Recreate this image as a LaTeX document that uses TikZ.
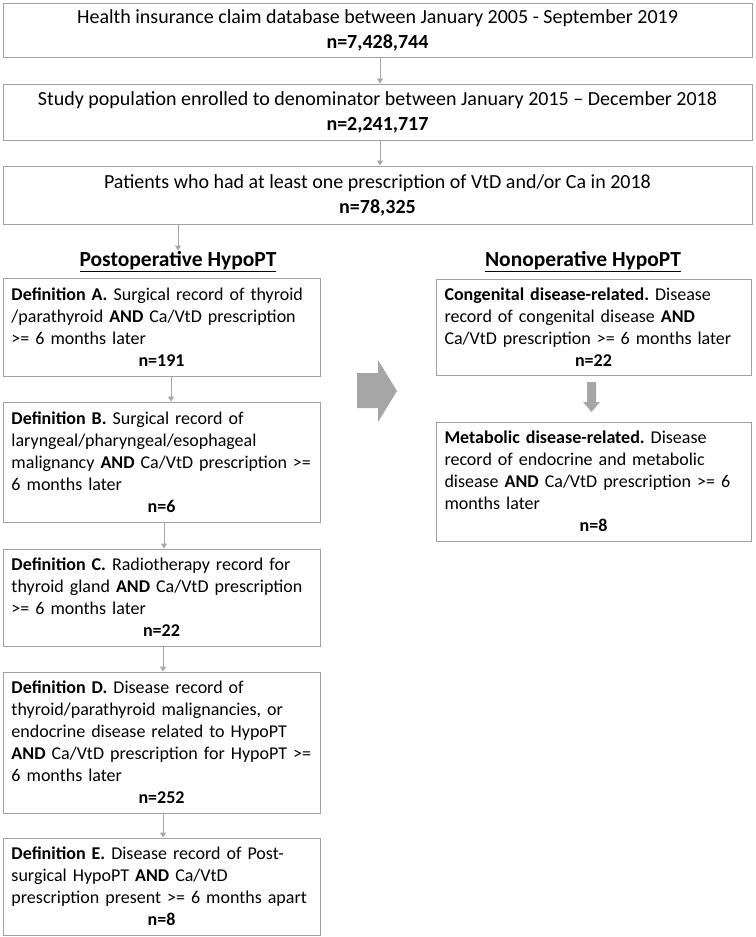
\documentclass[tikz,border=0pt]{standalone}
\usepackage{fontspec}
\setmainfont{Carlito}
\usetikzlibrary{arrows.meta,calc}
\definecolor{bordergray}{HTML}{A0A0A0}
\definecolor{arrowgray}{HTML}{A6A6A6}
\newcommand{\nline}[1]{\par\noindent\makebox[\hsize][c]{\textbf{#1}}}
\tikzset{
  topbox/.style={draw=bordergray,line width=1pt,minimum width=749pt,align=center,font=\fontsize{20pt}{25pt}\selectfont,inner sep=0pt},
  defbox/.style={draw=bordergray,line width=1pt,text width=300pt,align=left,font=\frenchspacing\fontsize{18pt}{22pt}\selectfont,inner xsep=8.5pt,inner ysep=0pt},
  rbox/.style={defbox,text width=298pt},
  head/.style={font=\bfseries\fontsize{21.5pt}{25pt}\selectfont,inner sep=1pt},
  arr/.style={draw=arrowgray,line width=1pt,-{Triangle[width=6pt,length=5pt]}},
}
\begin{document}
\begin{tikzpicture}[x=1pt,y=1pt]
\useasboundingbox (0,0) rectangle (755,-937);
\node[topbox,minimum height=54pt] (db) at (377.5,-30) {Health insurance claim database between January 2005 - September 2019\\ \textbf{n=7,428,744}};
\node[topbox,minimum height=56pt] (study) at (377.5,-112) {Study population enrolled to denominator between January 2015 – December 2018\\ \textbf{n=2,241,717}};
\node[topbox,minimum height=58pt] (pat) at (377.5,-195) {Patients who had at least one prescription of VtD and/or Ca in 2018\\ \textbf{n=78,325}};
\node[head] (posthead) at (178,-262) {\underline{Postoperative HypoPT}};
\node[head] (nonhead) at (583,-262) {\underline{Nonoperative HypoPT}};
\node[defbox,minimum height=98pt] (defA) at (161.5,-327) {\textbf{Definition A.} Surgical record of thyroid\\ /parathyroid \textbf{AND} Ca/VtD prescription\\ >= 6 months later\nline{n=191}};
\node[defbox,minimum height=120pt] (defB) at (161.5,-462) {\textbf{Definition B.} Surgical record of\\ laryngeal/pharyngeal/esophageal\\ malignancy \textbf{AND} Ca/VtD prescription >=\\ 6 months later\nline{n=6}};
\node[defbox,minimum height=97pt] (defC) at (161.5,-597.5) {\textbf{Definition C.} Radiotherapy record for\\ thyroid gland \textbf{AND} Ca/VtD prescription\\ >= 6 months later\nline{n=22}};
\node[defbox,minimum height=141pt] (defD) at (161.5,-742.5) {\textbf{Definition D.} Disease record of\\ thyroid/parathyroid malignancies, or\\ endocrine disease related to HypoPT\\ \textbf{AND} Ca/VtD prescription for HypoPT >=\\ 6 months later\nline{n=252}};
\node[defbox,minimum height=97pt] (defE) at (161.5,-886.5) {\textbf{Definition E.} Disease record of Post-\\ surgical HypoPT \textbf{AND} Ca/VtD\\ prescription present >= 6 months apart\nline{n=8}};
\node[rbox,minimum height=96pt] (cong) at (593.5,-327) {\textbf{Congenital disease-related.} Disease\\ record of congenital disease \textbf{AND}\\ Ca/VtD prescription >= 6 months later\nline{n=22}};
\node[rbox,minimum height=119pt] (meta) at (593.5,-481.5) {\textbf{Metabolic disease-related.} Disease\\ record of endocrine and metabolic\\ disease \textbf{AND} Ca/VtD prescription >= 6\\ months later\nline{n=8}};
% thin connectors
\draw[arr] ([xshift=2.5pt]db.south) -- ([xshift=2.5pt]study.north);
\draw[arr] ([xshift=2.5pt]study.south) -- ([xshift=2.5pt]pat.north);
\draw[arr] (pat.south -| posthead.north) -- (posthead.north);
\draw[arr] ([xshift=9.5pt]defA.south) -- ([xshift=9.5pt]defB.north);
\draw[arr] ([xshift=2.5pt]defB.south) -- ([xshift=2.5pt]defC.north);
\draw[arr] ([xshift=1.5pt]defC.south) -- ([xshift=1.5pt]defD.north);
\draw[arr] ([xshift=1.5pt]defD.south) -- ([xshift=1.5pt]defE.north);
% block arrows
\fill[arrowgray] (357,-373) -- (378,-373) -- (378,-360) -- (397,-391) -- (378,-422) -- (378,-408) -- (357,-408) -- cycle;
\fill[arrowgray] (587,-382) -- (596,-382) -- (596,-402) -- (600,-402) -- (591.5,-412) -- (583,-402) -- (587,-402) -- cycle;
\end{tikzpicture}
\end{document}
